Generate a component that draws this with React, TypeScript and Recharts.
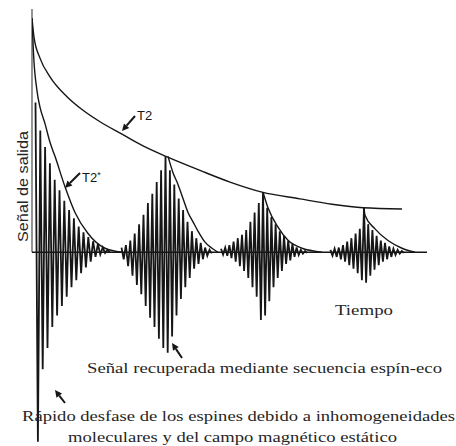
import { ComposedChart, Line, XAxis, YAxis, ReferenceLine } from 'recharts';

// time in arbitrary units, amplitude normalised to the initial magnetisation (1.0)
const T2_TIME = [0, 2, 8, 18, 35, 51, 68, 90, 111, 134, 168, 198, 230, 268, 300, 331, 370];
const T2_AMP = [1.0, 0.92, 0.83, 0.75, 0.665, 0.607, 0.558, 0.505, 0.455, 0.41, 0.35, 0.3, 0.257, 0.228, 0.205, 0.19, 0.185];

const T2STAR_TIME = [0, 1.5, 5, 8, 13, 18, 23, 33, 43, 56, 73, 90];
const T2STAR_AMP = [1.0, 0.85, 0.69, 0.62, 0.55, 0.47, 0.41, 0.28, 0.17, 0.08, 0.017, 0];

// decay envelope after each echo
const ECHO1_ENV_TIME = [136, 141, 146, 151, 156, 161, 166, 173, 180, 186];
const ECHO1_ENV_AMP = [0.41, 0.34, 0.29, 0.23, 0.17, 0.13, 0.09, 0.043, 0.017, 0];
const ECHO2_ENV_TIME = [231, 236, 246, 256, 270, 283, 290];
const ECHO2_ENV_AMP = [0.257, 0.19, 0.107, 0.051, 0.017, 0.004, 0];
const ECHO3_ENV_TIME = [332, 333, 343, 356, 370, 383];
const ECHO3_ENV_AMP = [0.19, 0.158, 0.1, 0.05, 0.017, 0];

// sampled signal peaks (alternating +/-), start time and sample step
const FID_START = 3.5;
const FID_STEP = 2.4;
const FID_SIGNAL = [
  0.64, -0.81, 0.52, -0.5, 0.45, -0.41, 0.38, -0.32, 0.31, -0.27, 0.265, -0.23, 0.22, -0.19, 0.18, -0.15,
  0.145, -0.12, 0.11, -0.09, 0.085, -0.065, 0.065, -0.04, 0.047, -0.02, 0.035, -0.01, 0.02, -0.003, 0.01, 0,
];

const ECHO1_START = 89.5;
const ECHO1_STEP = 2.2;
const ECHO1_SIGNAL = [
  0.02, -0.03, 0.03, -0.06, 0.05, -0.1, 0.08, -0.14, 0.12, -0.18, 0.16, -0.23, 0.21, -0.28, 0.25, -0.32,
  0.3, -0.37, 0.35, -0.41, 0.41, -0.43, 0.35, -0.36, 0.29, -0.27, 0.23, -0.2, 0.18, -0.15, 0.13, -0.11,
  0.09, -0.07, 0.06, -0.05, 0.04, -0.03, 0.02, -0.015, 0.01, -0.005,
];

const ECHO2_START = 189;
const ECHO2_STEP = 2.1;
const ECHO2_SIGNAL = [
  0.015, -0.01, 0.02, -0.015, 0.03, -0.025, 0.045, -0.04, 0.06, -0.06, 0.075, -0.08, 0.095, -0.11, 0.13, -0.15,
  0.17, -0.19, 0.21, -0.29, 0.257, -0.27, 0.19, -0.21, 0.15, -0.15, 0.12, -0.11, 0.09, -0.08, 0.07, -0.05,
  0.05, -0.035, 0.035, -0.02, 0.02, -0.012, 0.01, -0.006, 0.005, -0.003,
];

const ECHO3_START = 298.4;
const ECHO3_STEP = 2.1;
const ECHO3_SIGNAL = [
  0.01, -0.015, 0.015, -0.02, 0.02, -0.03, 0.03, -0.04, 0.045, -0.055, 0.06, -0.07, 0.08, -0.09, 0.1, -0.12,
  0.19, -0.13, 0.12, -0.1, 0.095, -0.075, 0.07, -0.055, 0.05, -0.04, 0.04, -0.03, 0.025, -0.02, 0.015, -0.012,
  0.01, -0.006, 0.005, -0.003,
];

const zip = (ts: number[], vs: number[]) => ts.map((t, i) => ({ t, v: vs[i] }));
const sampled = (start: number, step: number, vs: number[]) => vs.map((v, i) => ({ t: start + i * step, v }));

const INK = '#161616';
const TEXT = '#262626';
const SERIF = '"Liberation Serif", "DejaVu Serif", serif';
const SANS = '"Liberation Sans", Arial, sans-serif';

function Arrow({ x1, y1, x2, y2 }: { x1: number; y1: number; x2: number; y2: number }) {
  // from tail (x1,y1) to tip (x2,y2)
  const a = Math.atan2(y2 - y1, x2 - x1);
  const len = 7;
  const w = 3.5;
  const bx = x2 - len * Math.cos(a);
  const by = y2 - len * Math.sin(a);
  const px = -Math.sin(a) * w;
  const py = Math.cos(a) * w;
  return (
    <g>
      <line x1={x1} y1={y1} x2={bx} y2={by} stroke={INK} strokeWidth={2} />
      <polygon points={`${x2},${y2} ${bx + px},${by + py} ${bx - px},${by - py}`} fill={INK} />
    </g>
  );
}

export default function App() {
  const signalLines = [
    sampled(FID_START, FID_STEP, FID_SIGNAL),
    sampled(ECHO1_START, ECHO1_STEP, ECHO1_SIGNAL),
    sampled(ECHO2_START, ECHO2_STEP, ECHO2_SIGNAL),
    sampled(ECHO3_START, ECHO3_STEP, ECHO3_SIGNAL),
  ];
  const envelopes = [
    zip(T2_TIME, T2_AMP),
    zip(T2STAR_TIME, T2STAR_AMP),
    zip(ECHO1_ENV_TIME, ECHO1_ENV_AMP),
    zip(ECHO2_ENV_TIME, ECHO2_ENV_AMP),
    zip(ECHO3_ENV_TIME, ECHO3_ENV_AMP),
  ];

  return (
    <div style={{ position: 'absolute', left: 0, top: 0, width: 456, height: 446, background: '#fff' }}>
      <ComposedChart width={456} height={446} margin={{ top: 9, right: 24, bottom: 2, left: 32 }}>
        <XAxis type="number" dataKey="t" domain={[0, 400]} hide allowDataOverflow />
        <YAxis type="number" domain={[-0.82, 1.04]} hide allowDataOverflow />
        <ReferenceLine segment={[{ x: 0, y: 0 }, { x: 0, y: 1.04 }]} stroke="#7a7a7a" strokeWidth={1.6} />
        <ReferenceLine segment={[{ x: 0, y: 0 }, { x: 395, y: 0 }]} stroke={INK} strokeWidth={1.6} />
        {signalLines.map((d, i) => (
          <Line
            key={`sig-${i}`}
            data={d}
            dataKey="v"
            type="linear"
            stroke={INK}
            strokeWidth={1.8}
            dot={false}
            isAnimationActive={false}
          />
        ))}
        {envelopes.map((d, i) => (
          <Line
            key={`env-${i}`}
            data={d}
            dataKey="v"
            type="monotone"
            stroke={INK}
            strokeWidth={1.4}
            dot={false}
            isAnimationActive={false}
          />
        ))}
      </ComposedChart>
      <svg width={456} height={446} style={{ position: 'absolute', left: 0, top: 0, pointerEvents: 'none' }}>
        <Arrow x1={135} y1={116} x2={122} y2={131} />
        <text x={137} y={120} fontFamily={SANS} fontSize={13} fill={INK}>T2</text>
        <Arrow x1={80} y1={173} x2={65} y2={188} />
        <text x={82} y={182} fontFamily={SANS} fontSize={13} fill={INK}>
          T2<tspan fontSize={9} dy={-4}>*</tspan>
        </text>
        <text
          transform="translate(28,186.5) rotate(-90)"
          textAnchor="middle"
          fontFamily={SANS}
          fontSize={14.5}
          fill={TEXT}
          textLength={111}
          lengthAdjust="spacingAndGlyphs"
        >
          Señal de salida
        </text>
        <text x={335} y={315} fontFamily={SERIF} fontSize={15} fill={TEXT} textLength={58} lengthAdjust="spacingAndGlyphs">
          Tiempo
        </text>
        <Arrow x1={182} y1={358} x2={172} y2={343} />
        <text x={87} y={373} fontFamily={SERIF} fontSize={15} fill={TEXT} textLength={355} lengthAdjust="spacingAndGlyphs">
          Señal recuperada mediante secuencia espín-eco
        </text>
        <Arrow x1={65} y1={403} x2={55} y2={390} />
        <text x={22} y={421} fontFamily={SERIF} fontSize={15} fill={TEXT} textLength={433} lengthAdjust="spacingAndGlyphs">
          Rápido desfase de los espines debido a inhomogeneidades
        </text>
        <text x={68} y={442} fontFamily={SERIF} fontSize={15} fill={TEXT} textLength={329} lengthAdjust="spacingAndGlyphs">
          moleculares y del campo magnético estático
        </text>
      </svg>
    </div>
  );
}
